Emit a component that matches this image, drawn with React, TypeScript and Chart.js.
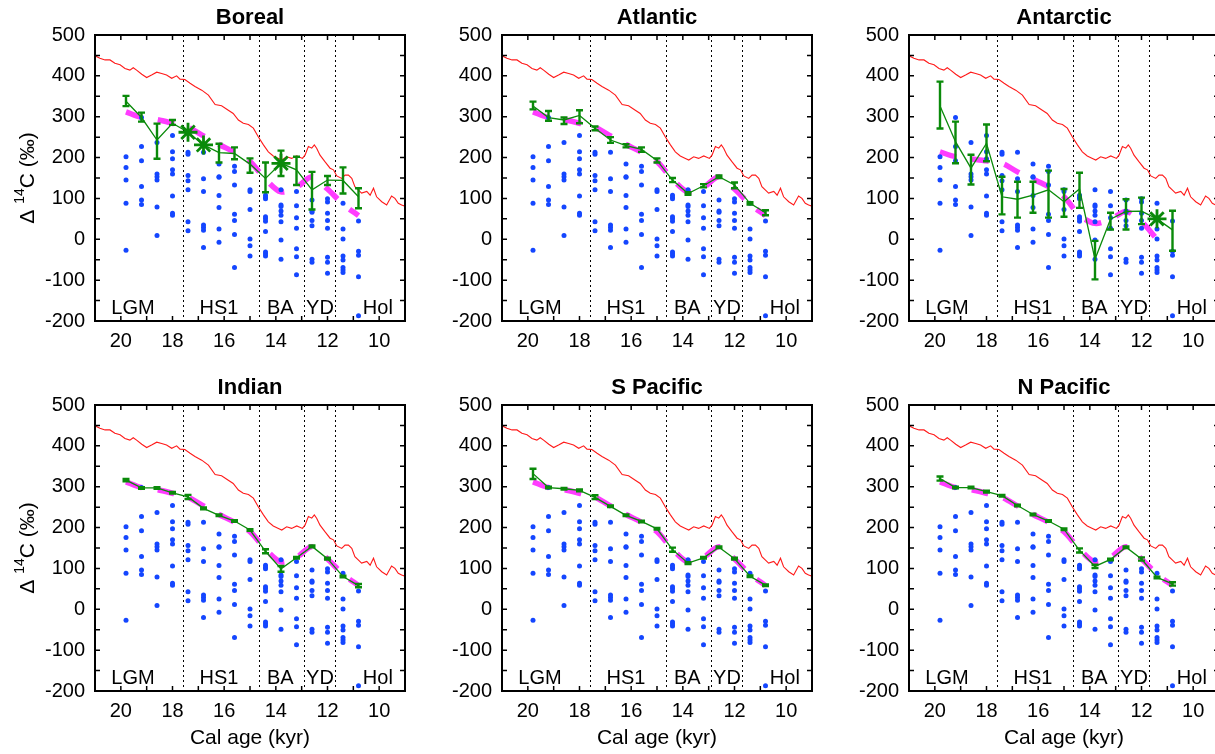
import React, { useEffect, useRef } from 'react';
import { Chart, registerables } from 'chart.js';

Chart.register(...registerables);

const FONT = '"Liberation Sans", Arial, Helvetica, sans-serif';

// ---- axes / ticks ----
const xTickLabels = [20, 18, 16, 14, 12, 10];
const xTickMarks = [9, 10, 11, 12, 13, 14, 15, 16, 17, 18, 19, 20, 21];
const yTickLabels = [-200, -100, 0, 100, 200, 300, 400, 500];
const yTickMarks = [-200, -150, -100, -50, 0, 50, 100, 150, 200, 250, 300, 350, 400, 450, 500];

// ---- climate periods ----
const periodBounds = [17.6, 14.65, 12.9, 11.7];
const periodNames = ['LGM', 'HS1', 'BA', 'YD', 'Hol'];
const periodNameX = [19.53, 16.2, 13.83, 12.29, 10.05];
const periodNameY = -182;

// ---- atmospheric curve (red) ----
const redAge = [21.0, 20.81, 20.61, 20.42, 20.23, 20.03, 19.84, 19.65, 19.52, 19.39, 19.19, 19.0, 18.81, 18.61, 18.42, 18.23, 18.03, 17.84, 17.71, 17.52, 17.32, 17.13, 16.87, 16.61, 16.35, 16.1, 15.84, 15.65, 15.45, 15.26, 15.06, 14.87, 14.68, 14.48, 14.29, 14.1, 13.9, 13.77, 13.58, 13.39, 13.19, 12.97, 12.87, 12.74, 12.61, 12.51, 12.42, 12.29, 12.1, 11.9, 11.77, 11.64, 11.45, 11.32, 11.19, 11.06, 10.94, 10.81, 10.68, 10.48, 10.35, 10.22, 10.1, 9.9, 9.71, 9.52, 9.39, 9.26, 9.13, 9.0];
const redVal = [449, 443, 439, 439, 431, 427, 418, 414, 420, 414, 404, 396, 402, 409, 406, 402, 394, 400, 392, 391, 382, 374, 365, 353, 330, 327, 316, 308, 292, 284, 281, 272, 251, 231, 214, 204, 198, 194, 202, 198, 204, 198, 206, 227, 223, 231, 223, 206, 190, 174, 170, 155, 149, 157, 157, 149, 129, 121, 113, 117, 108, 125, 104, 92, 84, 106, 100, 88, 84, 81];

// ---- sample ages (columns) ----
const sampleAge = [19.8, 19.2, 18.6, 18.0, 17.4, 16.8, 16.2, 15.6, 15.0, 14.4, 13.8, 13.2, 12.6, 12.0, 11.4, 10.8];

// ---- blue dots, one list per column ----
const dotVals = [
  [202, 176, 145, 88, -27],
  [298, 227, 192, 129, 96, 85],
  [237, 160, 153, 145, 79, 9],
  [254, 214, 197, 170, 160, 106, 64, 59],
  [213, 208, 156, 143, 121, 43, 21],
  [213, 148, 117, 35, 29, 22, -20],
  [184, 153, 152, 107, 78, 25, -7],
  [179, 166, 133, 61, 46, 12, -69],
  [121, 117, 73, 1, -16, -41],
  [108, 103, 99, 55, 50, 44, 19, -31, -36, -41],
  [121, 84, 80, 69, 59, 43, -2, -49],
  [117, 82, 53, 27, -23, -43, -87],
  [96, 69, 66, 46, 33, -49, -56],
  [99, 91, 64, 46, 27, -44, -56, -83],
  [88, 25, 1, -41, -51, -69, -75, -81],
  [45, -29, -39, -92, -187],
];

// ---- magenta dashed curve ----
const pinkVal = [312, 298, 293, 284, 274, 253, 232, 213, 190, 147, 116, 127, 153, 123, 86, 58];
const pinkValAntarctic = [214, 202, 197, 192, 186, 165, 147, 129, 104, 59, 39, 49, 68, 43, 0];

// ---- green basin means with error bars ----
const borealMean = [338, 298, 243, 284, 262, 231, 212, 210, 184, 149, 186, 170, 121, 145, 144, 104];
const borealLo = [326, 288, 197, 280, null, null, 188, 196, 163, 115, 155, 133, 73, 133, 112, 76];
const borealHi = [351, 310, 283, 292, null, null, 234, 225, 198, 188, 217, 202, 165, 155, 176, 125];
const borealStars = [4, 5, 10];

const atlanticMean = [326, 298, 292, 303, 272, 243, 229, 220, 193, 145, 112, 131, 153, 133, 88, 65];
const atlanticLo = [318, 290, 282, 284, 267, 236, 225, 214, 188, 140, 109, 127, 150, 125, 85, 59];
const atlanticHi = [337, 314, 298, 316, 276, 250, 233, 225, 198, 150, 115, 135, 156, 139, 91, 71];

const antarcticMean = [326, 239, 174, 235, 104, 98, 108, 121, 92, 123, -49, 49, 68, 69, 50, 23];
const antarcticLo = [271, 186, 134, 191, 61, 53, 65, 53, 55, 77, -98, 24, 24, 37, null, -28];
const antarcticHi = [386, 288, 207, 281, 153, 141, 141, 168, 123, 163, -4, 65, 98, 102, null, 70];
const antarcticStars = [14];

const indianMean = [316, 297, 297, 285, 275, 247, 230, 216, 194, 142, 99, 126, 154, 124, 80, 58];
const indianLo = [313, 295, 295, 283, 270, 245, 228, 214, 192, 137, 92, 124, 152, 122, 78, 54];
const indianHi = [319, 299, 299, 287, 280, 249, 232, 218, 196, 147, 106, 128, 156, 126, 82, 62];

const sPacificMean = [332, 298, 295, 291, 274, 252, 230, 215, 197, 146, 113, 126, 152, 124, 81, 59];
const sPacificLo = [319, 296, 293, 289, 270, 250, 228, 213, 195, 141, 111, 124, 150, 122, 79, 57];
const sPacificHi = [344, 300, 297, 293, 279, 254, 232, 217, 199, 151, 115, 128, 154, 126, 83, 61];

const nPacificMean = [320, 298, 298, 288, 278, 254, 232, 216, 196, 144, 105, 122, 152, 123, 78, 62];
const nPacificLo = [315, 296, 296, 286, 276, 252, 230, 214, 194, 139, 101, 120, 150, 119, 76, 58];
const nPacificHi = [325, 300, 300, 290, 280, 256, 234, 218, 198, 149, 109, 124, 154, 127, 80, 66];

const RED = '#ff1a1a';
const PINK = '#ff3cff';
const BLUE = '#1446ff';
const GREEN = '#0a8a0a';

type PanelCfg = {
  title: string;
  mean: number[];
  lo: (number | null)[];
  hi: (number | null)[];
  stars: number[];
  pink: number[];
};

const panels: PanelCfg[] = [
  { title: 'Boreal', mean: borealMean, lo: borealLo, hi: borealHi, stars: borealStars, pink: pinkVal },
  { title: 'Atlantic', mean: atlanticMean, lo: atlanticLo, hi: atlanticHi, stars: [], pink: pinkVal },
  { title: 'Antarctic', mean: antarcticMean, lo: antarcticLo, hi: antarcticHi, stars: antarcticStars, pink: pinkValAntarctic },
  { title: 'Indian', mean: indianMean, lo: indianLo, hi: indianHi, stars: [], pink: pinkVal },
  { title: 'S Pacific', mean: sPacificMean, lo: sPacificLo, hi: sPacificHi, stars: [], pink: pinkVal },
  { title: 'N Pacific', mean: nPacificMean, lo: nPacificLo, hi: nPacificHi, stars: [], pink: pinkVal },
];

const CW = 407;
const CH = 384;

const decorPlugin = {
  id: 'decor',
  beforeDatasetsDraw(chart: any) {
    const { ctx, chartArea: ca } = chart;
    const x = chart.scales.x;
    const y = chart.scales.y;
    ctx.save();
    ctx.strokeStyle = '#000';
    ctx.lineWidth = 1;
    ctx.setLineDash([2, 3]);
    periodBounds.forEach((v) => {
      const px = Math.round(x.getPixelForValue(v)) + 0.5;
      ctx.beginPath();
      ctx.moveTo(px, ca.top);
      ctx.lineTo(px, ca.bottom);
      ctx.stroke();
    });
    ctx.setLineDash([]);
    ctx.fillStyle = '#000';
    ctx.font = `20px ${FONT}`;
    ctx.textAlign = 'center';
    ctx.textBaseline = 'alphabetic';
    const by = y.getPixelForValue(periodNameY);
    periodNames.forEach((n, i) => ctx.fillText(n, x.getPixelForValue(periodNameX[i]), by));
    ctx.restore();
  },
  afterDatasetsDraw(chart: any) {
    const { ctx } = chart;
    const x = chart.scales.x;
    const y = chart.scales.y;
    ctx.save();
    chart.data.datasets.forEach((ds: any) => {
      if (!ds.errLo) return;
      ctx.strokeStyle = GREEN;
      ctx.lineWidth = 2.4;
      ds.errLo.forEach((lo: number | null, i: number) => {
        const hi = ds.errHi[i];
        if (lo === null || hi === null) return;
        const px = x.getPixelForValue(ds.errX[i]);
        const p1 = y.getPixelForValue(lo);
        const p2 = y.getPixelForValue(hi);
        ctx.beginPath();
        ctx.moveTo(px, p1);
        ctx.lineTo(px, p2);
        ctx.moveTo(px - 3.5, p1);
        ctx.lineTo(px + 3.5, p1);
        ctx.moveTo(px - 3.5, p2);
        ctx.lineTo(px + 3.5, p2);
        ctx.stroke();
      });
    });
    ctx.restore();
  },
  afterDraw(chart: any, _args: any, opts: any) {
    const { ctx, chartArea: ca } = chart;
    const x = chart.scales.x;
    const y = chart.scales.y;
    ctx.save();
    ctx.strokeStyle = '#000';
    ctx.lineWidth = 1.5;
    const TL = 5;
    ctx.beginPath();
    xTickMarks.forEach((v) => {
      const px = x.getPixelForValue(v);
      ctx.moveTo(px, ca.bottom);
      ctx.lineTo(px, ca.bottom - TL);
      ctx.moveTo(px, ca.top);
      ctx.lineTo(px, ca.top + TL);
    });
    yTickMarks.forEach((v) => {
      const py = y.getPixelForValue(v);
      ctx.moveTo(ca.left, py);
      ctx.lineTo(ca.left + TL, py);
      ctx.moveTo(ca.right, py);
      ctx.lineTo(ca.right - TL, py);
    });
    ctx.stroke();
    ctx.lineWidth = 2;
    ctx.strokeRect(ca.left, ca.top, ca.right - ca.left, ca.bottom - ca.top);
    ctx.fillStyle = '#000';
    ctx.font = `bold 22px ${FONT}`;
    ctx.textAlign = 'center';
    ctx.textBaseline = 'middle';
    ctx.fillText(opts.title, (ca.left + ca.right) / 2, 18);
    if (opts.yTitle) {
      const big = `21px ${FONT}`;
      const small = `14px ${FONT}`;
      const parts = [
        { t: '\u0394 ', f: big, dy: 0 },
        { t: '14', f: small, dy: -8 },
        { t: 'C (\u2030)', f: big, dy: 0 },
      ];
      let total = 0;
      parts.forEach((p) => {
        ctx.font = p.f;
        total += ctx.measureText(p.t).width;
      });
      ctx.translate(27, (ca.top + ca.bottom) / 2);
      ctx.rotate(-Math.PI / 2);
      ctx.textAlign = 'left';
      ctx.textBaseline = 'middle';
      let cx = -total / 2;
      parts.forEach((p) => {
        ctx.font = p.f;
        ctx.fillText(p.t, cx, p.dy + 1);
        cx += ctx.measureText(p.t).width;
      });
    }
    ctx.restore();
  },
};

function Panel({ cfg, left, top, yTitle, xTitle }: { cfg: PanelCfg; left: number; top: number; yTitle: boolean; xTitle: boolean }) {
  const ref = useRef<HTMLCanvasElement>(null);
  useEffect(() => {
    const dotData: { x: number; y: number }[] = [];
    dotVals.forEach((col, i) => col.forEach((v) => dotData.push({ x: sampleAge[i], y: v })));
    const chart = new Chart(ref.current!, {
      type: 'line',
      data: {
        datasets: [
          {
            label: 'stars',
            data: cfg.stars.map((i) => ({ x: sampleAge[i], y: cfg.mean[i] })),
            showLine: false,
            pointStyle: 'star',
            pointRadius: 9.5,
            pointBorderWidth: 2.8,
            borderColor: GREEN,
            backgroundColor: GREEN,
          } as any,
          {
            label: 'mean',
            data: cfg.mean.map((v, i) => ({ x: sampleAge[i], y: v })),
            borderColor: GREEN,
            borderWidth: 1.3,
            pointRadius: 0,
            tension: 0,
            errLo: cfg.lo,
            errHi: cfg.hi,
            errX: sampleAge,
          } as any,
          {
            label: 'dots',
            data: dotData,
            showLine: false,
            pointRadius: 2.5,
            pointBorderWidth: 0,
            backgroundColor: BLUE,
            borderColor: BLUE,
          } as any,
          {
            label: 'model',
            data: cfg.pink.map((v, i) => ({ x: sampleAge[i], y: v })),
            borderColor: PINK,
            borderWidth: 5.5,
            borderDash: [17, 16],
            borderCapStyle: 'butt',
            pointRadius: 0,
            tension: 0.3,
          } as any,
          {
            label: 'atm',
            data: redAge.map((a, i) => ({ x: a, y: redVal[i] })),
            borderColor: RED,
            borderWidth: 1.1,
            pointRadius: 0,
            tension: 0,
          } as any,
        ],
      },
      options: {
        responsive: false,
        animation: false,
        devicePixelRatio: 1,
        layout: { autoPadding: false, padding: { left: 0, right: 2, top: 35, bottom: 0 } },
        plugins: {
          legend: { display: false },
          tooltip: { enabled: false },
          decor: { title: cfg.title, yTitle },
        } as any,
        scales: {
          x: {
            type: 'linear',
            min: 9,
            max: 21,
            reverse: true,
            grid: { display: false, drawTicks: false },
            border: { display: false },
            afterBuildTicks: (s: any) => {
              s.ticks = xTickLabels.map((v) => ({ value: v }));
            },
            afterFit: (s: any) => {
              s.height = CH - 35 - 286;
              s.paddingLeft = 0;
              s.paddingRight = 0;
              s.paddingTop = 0;
              s.paddingBottom = 0;
            },
            ticks: {
              color: '#000',
              padding: 8,
              maxRotation: 0,
              autoSkip: false,
              font: { family: FONT, size: 20 },
              callback: (v: any) => String(v),
            },
            title: {
              display: xTitle,
              text: 'Cal age (kyr)',
              color: '#000',
              font: { family: FONT, size: 21 },
              padding: { top: 0, bottom: 3 },
            },
          },
          y: {
            type: 'linear',
            min: -200,
            max: 500,
            grid: { display: false, drawTicks: false },
            border: { display: false },
            afterBuildTicks: (s: any) => {
              s.ticks = yTickLabels.map((v) => ({ value: v }));
            },
            afterFit: (s: any) => {
              s.width = 95;
              s.paddingLeft = 0;
              s.paddingRight = 0;
              s.paddingTop = 0;
              s.paddingBottom = 0;
            },
            ticks: {
              color: '#000',
              padding: 10,
              autoSkip: false,
              font: { family: FONT, size: 20 },
              callback: (v: any) => String(v),
            },
          },
        },
      } as any,
      plugins: [decorPlugin as any],
    });
    return () => chart.destroy();
  }, [cfg, yTitle, xTitle]);
  return (
    <canvas
      ref={ref}
      width={CW}
      height={CH}
      style={{ position: 'absolute', left, top, width: CW, height: CH }}
    />
  );
}

export default function App() {
  return (
    <div
      style={{
        position: 'absolute',
        left: 0,
        top: 0,
        width: 1215,
        height: 754,
        overflow: 'hidden',
        background: '#fff',
      }}
    >
      {panels.map((p, i) => {
        const col = i % 3;
        const row = Math.floor(i / 3);
        return (
          <Panel
            key={p.title}
            cfg={p}
            left={col * 407}
            top={row * 370}
            yTitle={col === 0}
            xTitle={row === 1}
          />
        );
      })}
    </div>
  );
}
